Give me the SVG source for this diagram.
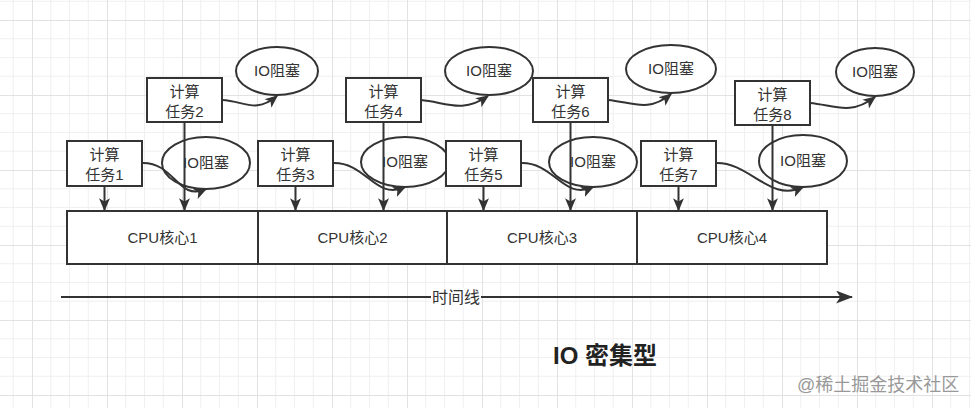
<svg xmlns="http://www.w3.org/2000/svg" width="971" height="408" viewBox="0 0 971 408">
<style>
.box{fill:#fff;stroke:#333;stroke-width:2}
.ell{fill:#fff;stroke:#333;stroke-width:2}
.t{font-family:"Liberation Sans","Noto Sans CJK SC",sans-serif;font-size:15px;fill:#333;text-anchor:middle}
.e{fill:none;stroke:#333;stroke-width:2}
.arr{marker-end:url(#a)}
</style>
<defs>
<pattern id="grid" patternUnits="userSpaceOnUse" x="32" y="20" width="75" height="75">
<rect width="75" height="75" fill="#fff"/>
<path d="M18.75,0V75M37.5,0V75M56.25,0V75M0,18.75H75M0,37.5H75M0,56.25H75" stroke="#f0f0f0" stroke-width="1"/>
<path d="M0.5,0V75M0,0.5H75" stroke="#e2e2e2" stroke-width="1"/>
</pattern>
<marker id="a" viewBox="0 0 10 10" refX="9" refY="5" markerWidth="13" markerHeight="13" markerUnits="userSpaceOnUse" orient="auto">
<path d="M0,0.8 L10,5 L0,9.2 L2.5,5 z" fill="#333"/>
</marker>
<marker id="big" viewBox="0 0 16 12" refX="15" refY="6" markerWidth="17" markerHeight="13" markerUnits="userSpaceOnUse" orient="auto">
<path d="M0,0 L16,6 L0,12 L4,6 z" fill="#333"/>
</marker>
</defs>
<rect width="971" height="408" fill="url(#grid)"/>

<g id="cpu1"><rect class="box" x="67" y="211" width="191" height="53"/><text class="t" x="162.5" y="243">CPU核心1</text></g>
<g id="cpu2"><rect class="box" x="258" y="211" width="189" height="53"/><text class="t" x="352.5" y="243">CPU核心2</text></g>
<g id="cpu3"><rect class="box" x="447" y="211" width="190" height="53"/><text class="t" x="542" y="243">CPU核心3</text></g>
<g id="cpu4"><rect class="box" x="637" y="211" width="190" height="53"/><text class="t" x="732" y="243">CPU核心4</text></g>

<g id="io1"><ellipse class="ell" cx="277" cy="71" rx="41" ry="24"/><text class="t" x="277" y="76">IO阻塞</text></g>
<g id="io2"><ellipse class="ell" cx="489" cy="71" rx="44" ry="24"/><text class="t" x="489" y="76">IO阻塞</text></g>
<g id="io3"><ellipse class="ell" cx="671" cy="69" rx="45" ry="24"/><text class="t" x="671" y="74">IO阻塞</text></g>
<g id="io4"><ellipse class="ell" cx="875" cy="72" rx="39" ry="24"/><text class="t" x="875" y="77">IO阻塞</text></g>

<g id="io5"><ellipse class="ell" cx="206" cy="163" rx="44" ry="26"/><text class="t" x="206" y="168">IO阻塞</text></g>
<g id="io6"><ellipse class="ell" cx="405" cy="162" rx="44" ry="25"/><text class="t" x="405" y="167">IO阻塞</text></g>
<g id="io7"><ellipse class="ell" cx="593" cy="162" rx="44" ry="25"/><text class="t" x="593" y="167">IO阻塞</text></g>
<g id="io8"><ellipse class="ell" cx="803" cy="161" rx="44" ry="26"/><text class="t" x="803" y="166">IO阻塞</text></g>

<g id="task1"><rect class="box" x="67" y="141" width="75" height="45"/><text class="t" x="104.5" y="160">计算</text><text class="t" x="104.5" y="180">任务1</text></g>
<g id="task2"><rect class="box" x="147" y="78" width="75" height="44"/><text class="t" x="184.5" y="97">计算</text><text class="t" x="184.5" y="117">任务2</text></g>
<g id="task3"><rect class="box" x="258" y="141" width="75" height="45"/><text class="t" x="295.5" y="160">计算</text><text class="t" x="295.5" y="180">任务3</text></g>
<g id="task4"><rect class="box" x="346" y="78" width="75" height="44"/><text class="t" x="383.5" y="97">计算</text><text class="t" x="383.5" y="117">任务4</text></g>
<g id="task5"><rect class="box" x="446" y="141" width="75" height="45"/><text class="t" x="483.5" y="160">计算</text><text class="t" x="483.5" y="180">任务5</text></g>
<g id="task6"><rect class="box" x="533" y="78" width="75" height="44"/><text class="t" x="570.5" y="97">计算</text><text class="t" x="570.5" y="117">任务6</text></g>
<g id="task7"><rect class="box" x="641" y="141" width="75" height="45"/><text class="t" x="678.5" y="160">计算</text><text class="t" x="678.5" y="180">任务7</text></g>
<g id="task8"><rect class="box" x="735" y="81" width="75" height="44"/><text class="t" x="772.5" y="100">计算</text><text class="t" x="772.5" y="120">任务8</text></g>

<g id="connectors">
<path class="e arr" d="M104.5,186V210"/>
<path class="e arr" d="M295.5,186V210"/>
<path class="e arr" d="M483.5,186V210"/>
<path class="e arr" d="M678.5,186V210"/>
<path class="e arr" d="M184.5,122V210"/>
<path class="e arr" d="M383.5,122V210"/>
<path class="e arr" d="M570.5,122V210"/>
<path class="e arr" d="M772.5,125V210"/>
<path class="e arr" d="M142,163C175,162 178,202 206,189"/>
<path class="e arr" d="M333,163C366,162 376,201 405,187"/>
<path class="e arr" d="M521,163C554,162 564,201 593,187"/>
<path class="e arr" d="M716,163C750,162 770,203 803,187"/>
<path class="e arr" d="M222,100C245,101 255,114 277,96"/>
<path class="e arr" d="M421,100C445,102 462,114 488,96"/>
<path class="e arr" d="M608,100C632,102 648,113 671,94"/>
<path class="e arr" d="M810,103C834,105 850,116 875,97"/>
<path class="e" d="M61,297H852" marker-end="url(#big)"/>
</g>
<g id="timeline-label"><rect x="431" y="288" width="50" height="18" fill="#fff"/><text class="t" x="456" y="303" style="font-size:16px">时间线</text></g>
<text x="553" y="364" style="font-family:'Liberation Sans','Noto Sans CJK SC',sans-serif;font-size:24px;font-weight:bold;fill:#222">IO 密集型</text>
<text x="797" y="391" style="font-family:'Liberation Sans','Noto Sans CJK SC',sans-serif;font-size:18px;fill:#999">@稀土掘金技术社区</text>
</svg>
